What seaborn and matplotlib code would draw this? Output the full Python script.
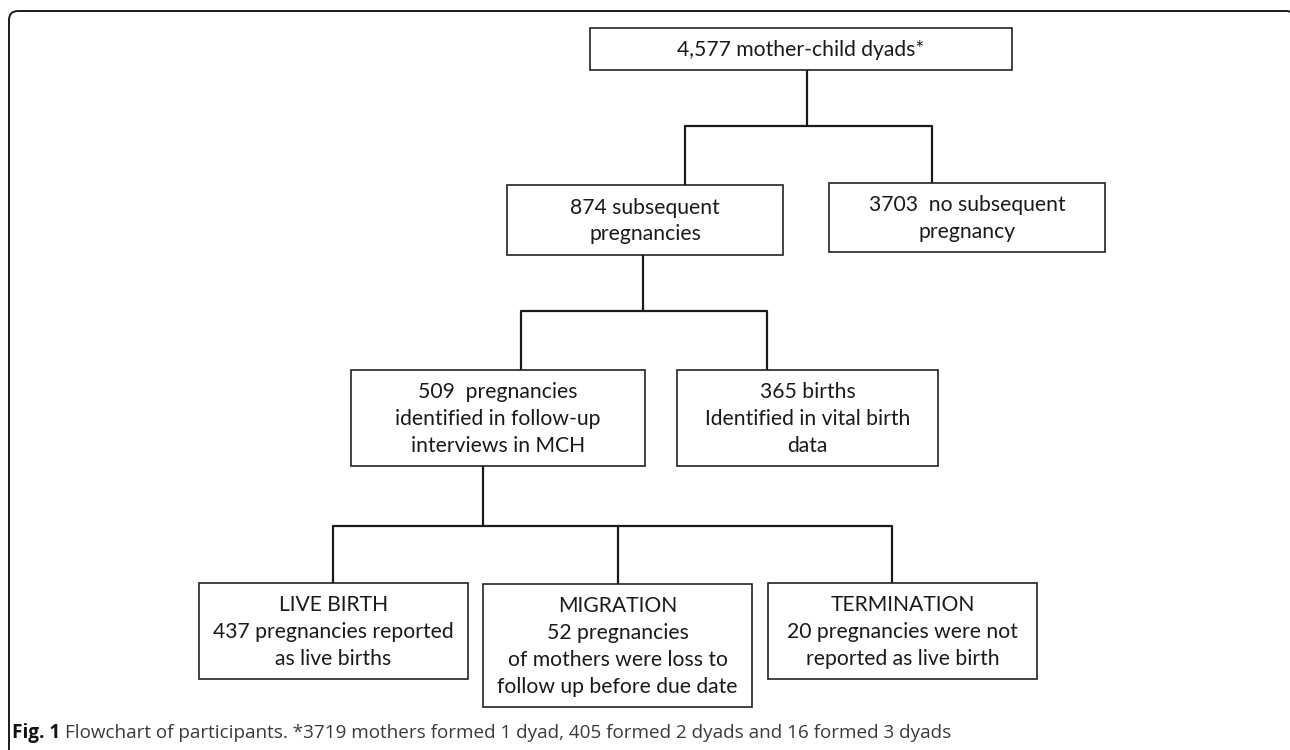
import matplotlib
matplotlib.use("Agg")
import matplotlib.pyplot as plt
from matplotlib.patches import Rectangle, FancyBboxPatch
import seaborn as sns
import pandas as pd

# ---- content ----
top_label = "4,577 mother-child dyads*"
level1_labels = ["874 subsequent\npregnancies", "3703  no subsequent\npregnancy"]
level2_labels = ["509  pregnancies\nidentified in follow-up\ninterviews in MCH",
                 "365 births\nIdentified in vital birth\ndata"]
level3_labels = ["LIVE BIRTH\n437 pregnancies reported\nas live births",
                 "MIGRATION\n52 pregnancies\nof mothers were loss to\nfollow up before due date",
                 "TERMINATION\n20 pregnancies were not\nreported as live birth"]
caption_bold = "Fig. 1"
caption_text = "Flowchart of participants. *3719 mothers formed 1 dyad, 405 formed 2 dyads and 16 formed 3 dyads"

# ---- layout (pixel canvas, y downwards) ----
top_box = (590, 28, 1012, 70)
level1_boxes = [(507, 185, 783, 255), (829, 183, 1105, 252)]
level2_boxes = [(351, 370, 645, 466), (677, 370, 938, 466)]
level3_boxes = [(199, 583, 468, 679), (483, 584, 752, 707), (768, 583, 1037, 679)]

connectors = [
    [(807, 70), (807, 126)],
    [(685, 185), (685, 126), (932, 126), (932, 183)],
    [(643, 255), (643, 311)],
    [(521, 370), (521, 311), (767, 311), (767, 370)],
    [(483, 466), (483, 526)],
    [(333, 583), (333, 526), (892, 526), (892, 583)],
    [(618, 526), (618, 584)],
]

sns.set_theme(style="white")
plt.rcParams['font.family'] = ['Lato', 'DejaVu Sans']

W, H = 1290, 750
fig = plt.figure(figsize=(W / 100, H / 100), dpi=100)
ax = fig.add_axes([0, 0, 1, 1])

# outer frame with rounded corners (bottom/right run off the canvas)
frame = FancyBboxPatch((9, 11), 1286, 900, boxstyle="round,pad=0,rounding_size=9",
                       fill=False, edgecolor="#1a1a1a", linewidth=1.4)
ax.add_patch(frame)

# connectors through seaborn
rows = []
for i, seg in enumerate(connectors):
    for k, (x, y) in enumerate(seg):
        rows.append({"x": x, "y": y, "seg": i, "order": k})
df = pd.DataFrame(rows)
sns.lineplot(data=df, x="x", y="y", units="seg", estimator=None, sort=False,
             color="#1a1a1a", linewidth=1.6, ax=ax, legend=False)
ax.set_xlim(0, W)
ax.set_ylim(H, 0)
ax.axis("off")

BOX_FS = 15.2

def draw_box(rect, label):
    x0, y0, x1, y1 = rect
    ax.add_patch(Rectangle((x0, y0), x1 - x0, y1 - y0, fill=True, facecolor="white",
                           edgecolor="#222222", linewidth=1.2, zorder=3))
    ax.text((x0 + x1) / 2, (y0 + y1) / 2 + 1, label, ha="center", va="center",
            fontsize=BOX_FS, color="#1a1a1a", linespacing=1.42, zorder=4)

draw_box(top_box, top_label)
for r, l in zip(level1_boxes, level1_labels):
    draw_box(r, l)
for r, l in zip(level2_boxes, level2_labels):
    draw_box(r, l)
for r, l in zip(level3_boxes, level3_labels):
    draw_box(r, l)

# caption
cap_fs = 13.6
t1 = ax.text(12, 733, caption_bold, ha="left", va="center", fontsize=cap_fs,
             fontweight="bold", color="#111111", family=["Open Sans", "DejaVu Sans"])
fig.canvas.draw()
bb = t1.get_window_extent()
inv = ax.transData.inverted()
x_end = inv.transform((bb.x1, bb.y0))[0]
ax.text(x_end + 5, 733, caption_text, ha="left", va="center", fontsize=cap_fs,
        color="#3a3a3a", family=["Open Sans", "DejaVu Sans"])

fig.savefig("out.png", dpi=100, facecolor="white")
